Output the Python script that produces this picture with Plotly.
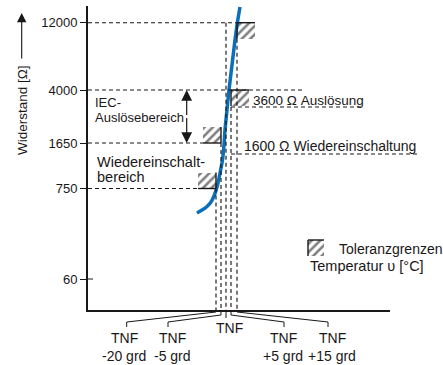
import plotly.graph_objects as go

# ---------------- data (schematic axis units) ----------------
res_tick_labels = ["60", "750", "1650", "4000", "12000"]
res_tick_pos = [31, 121.5, 167, 220, 287.3]

temp_labels_top = ["TNF", "TNF", "TNF", "TNF", "TNF"]
temp_labels_bottom = ["-20 grd", "-5 grd", "", "+5 grd", "+15 grd"]
temp_pos = [128, 133, 138, 143, 149]
temp_label_pos = [36, 84.5, 141, 195, 244]
leader_pos = [38.7, 80, 138, 196, 240]

curve_x = [109, 114, 119, 123, 126, 129, 131, 133, 134.5, 136, 137, 139, 141, 144, 147, 149.5, 152]
curve_y = [97, 100, 103.5, 108, 114, 123, 132, 142, 150, 165, 180, 200, 220, 245, 270, 288, 303]

# tolerance boxes: temperature index, resistance tick index, side (-1 left/above, +1 right/below)
tol_temp_idx = [0, 1, 3, 4]
tol_res_idx = [1, 2, 3, 4]
tol_side = [-1, -1, 1, 1]

trip_level = 203    # 3600 Ohm
reset_level = 156   # 1600 Ohm

# ---------------- style ----------------
XR, YR = 302.0, 304.0
INK = "#1a1718"
FONT = "Liberation Sans, Arial, sans-serif"
BW, BH = 18, 16
DASH = "4px,3px"


def X(u):
    return u / XR


def Y(u):
    return u / YR


fig = go.Figure()

HATCH = dict(shape="/", fgcolor="#000000", bgcolor="rgba(0,0,0,0)", size=6, solidity=0.42)

# hatched tolerance boxes
for ti, ri, sd in zip(tol_temp_idx, tol_res_idx, tol_side):
    tx, ry = temp_pos[ti], res_tick_pos[ri]
    if sd < 0:
        x0, y0 = tx - BW, ry
    else:
        x0, y0 = tx, ry - BH
    fig.add_trace(go.Bar(
        x=[x0 + BW / 2], y=[BH], base=[y0], width=[BW],
        marker=dict(color="rgba(0,0,0,0)", line=dict(width=0), pattern=HATCH),
        showlegend=False, hoverinfo="skip"))

# legend box
LX0, LY0 = 220, 54
fig.add_trace(go.Bar(
    x=[LX0 + 8], y=[16], base=[LY0], width=[16],
    marker=dict(color="rgba(0,0,0,0)", line=dict(width=0), pattern=HATCH),
    showlegend=False, hoverinfo="skip"))

# curve
fig.add_trace(go.Scatter(x=curve_x, y=curve_y, mode="lines",
                         line=dict(color="#0a6fb8", width=3.5, shape="spline"),
                         showlegend=False, hoverinfo="skip", cliponaxis=False))

shapes = []


def seg(x0, y0, x1, y1, dash=None, width=1, color=INK):
    ln = dict(color=color, width=width)
    if dash:
        ln["dash"] = dash
    shapes.append(dict(type="line", xref="paper", yref="paper",
                       x0=X(x0), y0=Y(y0), x1=X(x1), y1=Y(y1), line=ln))


# solid edges of tolerance boxes
for ti, ri, sd in zip(tol_temp_idx, tol_res_idx, tol_side):
    tx, ry = temp_pos[ti], res_tick_pos[ri]
    if sd < 0:
        seg(tx - BW, ry, tx, ry, width=1.4)
        seg(tx, ry, tx, ry + BH, width=1.4)
    else:
        seg(tx, ry, tx + BW, ry, width=1.4)
        seg(tx, ry, tx, ry - BH, width=1.4)

# legend box edges
seg(LX0, LY0, LX0, LY0 + 16, width=1.4)
seg(LX0, LY0 + 16, LX0 + 16, LY0 + 16, width=1.4)

# horizontal dashed guide lines
DW = 1.15
seg(0, res_tick_pos[4], temp_pos[4], res_tick_pos[4], dash=DASH, width=DW)
seg(0, res_tick_pos[3], 214, res_tick_pos[3], dash=DASH, width=DW)
seg(0, res_tick_pos[2], temp_pos[1] - BW, res_tick_pos[2], dash=DASH, width=DW)
seg(0, res_tick_pos[1], temp_pos[0] - BW, res_tick_pos[1], dash=DASH, width=DW)
seg(temp_pos[3], trip_level, 274, trip_level, dash=DASH, width=DW)
seg(temp_pos[3], reset_level, 329, reset_level, dash=DASH, width=DW)

# vertical dashed temperature lines
v_tops = [res_tick_pos[1], res_tick_pos[2], res_tick_pos[4], trip_level, res_tick_pos[4] - BH]
for tx, top in zip(temp_pos, v_tops):
    seg(tx, top, tx, 0, dash=DASH, width=DW)

# 60 tick inner part
seg(0, res_tick_pos[0], 5, res_tick_pos[0], width=1)

# leader lines below axis
drops = [2, 5, 8, 5, 2]
for i, (tx, anchor, dp) in enumerate(zip(temp_pos, leader_pos, drops)):
    if i == 2:
        seg(tx, -1, tx, -8)
    else:
        seg(tx, -1, tx, -dp)
        seg(tx, -dp, anchor, -12)
        seg(anchor, -12, anchor, -17)

annotations = []


def txt(x, y, s, size=14, xanchor="left", yanchor="middle", angle=0):
    annotations.append(dict(x=X(x), y=Y(y), xref="paper", yref="paper", text=s,
                            showarrow=False, xanchor=xanchor, yanchor=yanchor,
                            textangle=angle,
                            font=dict(family=FONT, size=size, color=INK)))


txt(5, 207, "IEC-", 13)
txt(5, 193, "Auslösebereich", 13)
txt(6.5, 148, "Wiedereinschalt-", 14.5)
txt(6.5, 133, "bereich", 14.5)
txt(163, 210, "3600 Ω Auslösung", 13.5)
txt(153.5, 164, "1600 Ω Wiedereinschaltung", 14)
txt(249, 61, "Toleranzgrenzen", 14)
txt(220, 44, "Temperatur υ [°C]", 14.5)
txt(-65, 200, "Widerstand [Ω]", 13.5, xanchor="center", angle=-90)

for i, (lx, t1, t2) in enumerate(zip(temp_label_pos, temp_labels_top, temp_labels_bottom)):
    if t2:
        txt(lx, -28, t1, 14, xanchor="center")
        txt(lx, -46, t2, 14, xanchor="center")
    else:
        txt(lx, -18, t1, 14, xanchor="center")

# arrows
annotations.append(dict(x=X(-66.3), y=Y(297), xref="paper", yref="paper", text="",
                        showarrow=True, ax=0, ay=47, arrowhead=2, arrowsize=1.7,
                        arrowwidth=1.1, arrowcolor=INK))
mid = (res_tick_pos[3] + res_tick_pos[2]) / 2
for tip in (res_tick_pos[3], res_tick_pos[2]):
    annotations.append(dict(x=X(98.7), y=Y(tip), xref="paper", yref="paper", text="",
                            showarrow=True, ax=0, ay=(tip - mid),
                            arrowhead=2, arrowsize=1.8, arrowwidth=1.2,
                            arrowcolor=INK))

fig.update_layout(
    width=443, height=365,
    margin=dict(l=88, r=53, t=6, b=55),
    paper_bgcolor="white", plot_bgcolor="white",
    barmode="overlay", bargap=0,
    shapes=shapes, annotations=annotations,
    font=dict(family=FONT, size=13, color=INK),
    xaxis=dict(range=[0, XR], showline=True, linecolor=INK, linewidth=2,
               showgrid=False, zeroline=False, showticklabels=False, ticks="",
               fixedrange=True),
    yaxis=dict(range=[0, YR], showline=True, linecolor=INK, linewidth=2,
               showgrid=False, zeroline=False, tickvals=res_tick_pos,
               ticktext=res_tick_labels, ticks="outside", ticklen=6,
               tickwidth=1, tickcolor=INK, tickfont=dict(size=13, family=FONT,
                                                         color=INK),
               fixedrange=True),
)

fig.write_html("out.html")
